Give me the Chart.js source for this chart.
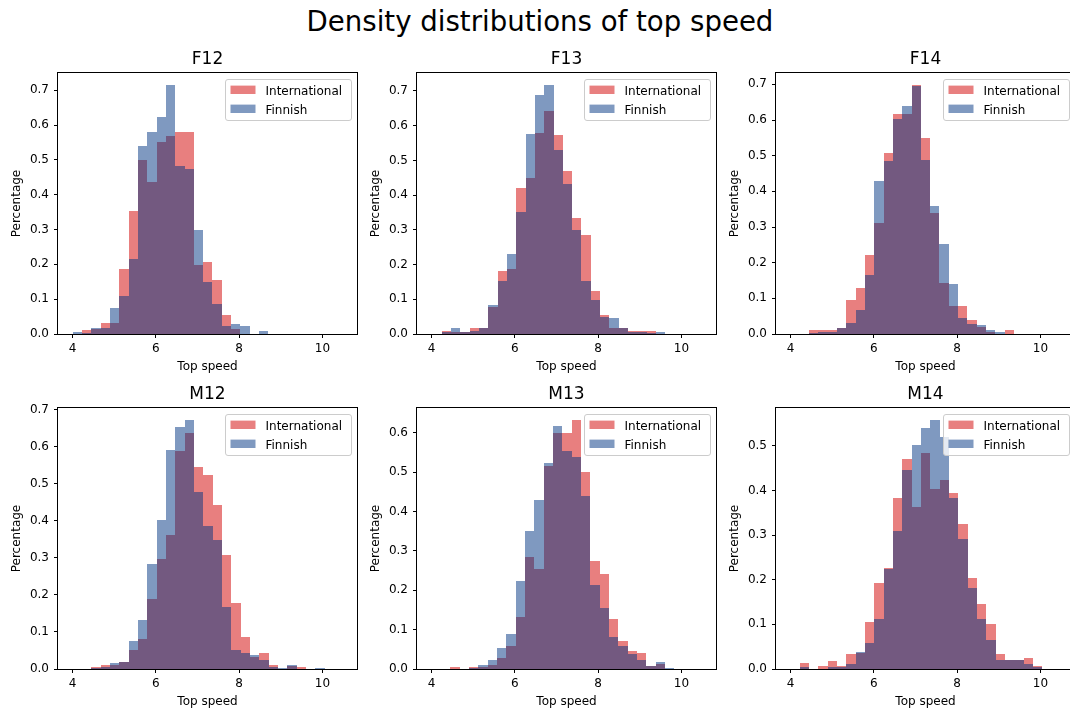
<!DOCTYPE html>
<html>
<head>
<meta charset="utf-8">
<title>Density distributions of top speed</title>
<script src="https://cdn.jsdelivr.net/npm/chart.js@4.4.0/dist/chart.umd.min.js"></script>
<style>
  html, body { margin: 0; padding: 0; background: #fff; overflow: hidden; }
  body { width: 1070px; height: 711px; position: relative; }
  #suptitle {
    position: absolute; left: 0; top: 8px; width: 1080px;
    text-align: center; font-family: "DejaVu Sans"; font-size: 27.6px; line-height: 28px; color: #000;
  }
  canvas { position: absolute; }
</style>
</head>
<body>
<div id="suptitle">Density distributions of top speed</div>
<script>
// histogram bins: each panel has its own first edge, same width
const panelNames = ['F12', 'F13', 'F14', 'M12', 'M13', 'M14'];
const binStarts = [4.0, 4.24, 4.44, 4.45, 4.45, 4.22];
const binWidth = 0.224;
const xTicks = [4, 6, 8, 10];
const seriesLabels = ['International', 'Finnish'];

// density per bin
const f12Intl = [0, 0.011, 0.014, 0.032, 0.032, 0.186, 0.353, 0.499, 0.437, 0.552, 0.569, 0.579, 0.579, 0.198, 0.207, 0.156, 0.054, 0.013, 0, 0, 0];
const f12Fin  = [0.006, 0.004, 0.016, 0.016, 0.075, 0.109, 0.215, 0.540, 0.579, 0.623, 0.714, 0.483, 0.473, 0.298, 0.148, 0.085, 0.024, 0.030, 0.023, 0, 0.009];

const f13Intl = [0.010, 0.005, 0.007, 0.018, 0.018, 0.078, 0.181, 0.186, 0.420, 0.449, 0.580, 0.642, 0.573, 0.470, 0.334, 0.286, 0.125, 0.056, 0.018, 0.018, 0.010, 0.010, 0.010, 0];
const f13Fin  = [0.005, 0.016, 0.007, 0.010, 0.018, 0.083, 0.153, 0.229, 0.351, 0.576, 0.687, 0.716, 0.531, 0.431, 0.300, 0.153, 0.098, 0.049, 0.047, 0.018, 0.007, 0.007, 0.003, 0.005];

const f14Intl = [0.010, 0.010, 0.010, 0.016, 0.095, 0.130, 0.221, 0.312, 0.507, 0.618, 0.618, 0.697, 0.550, 0.340, 0.142, 0.078, 0.078, 0.038, 0.020, 0.005, 0, 0.010];
const f14Fin  = [0.004, 0.005, 0.005, 0.018, 0.030, 0.067, 0.166, 0.430, 0.484, 0.602, 0.639, 0.695, 0.489, 0.360, 0.253, 0.139, 0.044, 0.027, 0.026, 0.011, 0.005, 0];

const m12Intl = [0.005, 0.011, 0.010, 0.020, 0.050, 0.081, 0.188, 0.297, 0.363, 0.588, 0.637, 0.544, 0.525, 0.444, 0.309, 0.178, 0.087, 0.033, 0.043, 0.011, 0, 0.008, 0.006, 0, 0];
const m12Fin  = [0.003, 0.006, 0.016, 0.020, 0.075, 0.133, 0.284, 0.403, 0.592, 0.653, 0.671, 0.477, 0.387, 0.349, 0.168, 0.050, 0.043, 0.038, 0.023, 0.005, 0.002, 0.011, 0, 0, 0.003];

const m13Intl = [0.006, 0, 0.006, 0.006, 0.010, 0.028, 0.059, 0.133, 0.285, 0.254, 0.515, 0.600, 0.600, 0.631, 0.499, 0.274, 0.240, 0.126, 0.072, 0.045, 0.041, 0.008, 0.012, 0];
const m13Fin  = [0, 0, 0.002, 0.011, 0.024, 0.054, 0.088, 0.223, 0.350, 0.429, 0.522, 0.617, 0.553, 0.538, 0.438, 0.214, 0.154, 0.080, 0.059, 0.037, 0.024, 0.008, 0.019, 0.003];

const m14Intl = [0.0135, 0, 0.007, 0.019, 0.007, 0.034, 0.036, 0.105, 0.192, 0.226, 0.384, 0.470, 0.364, 0.485, 0.404, 0.424, 0.395, 0.326, 0.205, 0.146, 0.100, 0.034, 0.020, 0.020, 0.025, 0.007];
const m14Fin  = [0.004, 0, 0, 0.005, 0.005, 0.011, 0.0375, 0.058, 0.113, 0.223, 0.309, 0.447, 0.503, 0.541, 0.557, 0.520, 0.383, 0.291, 0.181, 0.111, 0.065, 0.021, 0.020, 0.020, 0.011, 0.004];

const intlSeries = [f12Intl, f13Intl, f14Intl, m12Intl, m13Intl, m14Intl];
const finSeries = [f12Fin, f13Fin, f14Fin, m12Fin, m13Fin, m14Fin];

// look
const INTL_COLOR = 'rgba(210, 0, 0, 0.5)';
const FIN_COLOR = 'rgba(0, 52, 130, 0.5)';
const FONT = 'DejaVu Sans';

// panel geometry (plot area of each subplot)
const axLefts = [58, 417, 776];
const axTops = [73, 408];
const axW = 299, axH = 261;
const yAxisW = 58, titleH = 27, xAxisH = 40;
const xMin = 3.65, xMax = 10.83;

Chart.defaults.font.family = FONT;
Chart.defaults.font.size = 12;
Chart.defaults.color = '#000';

// snap bar edges to whole pixels so neighbouring translucent bars don't leave seams
const snapBars = {
    id: 'snapBars',
    afterDatasetsUpdate(chart) {
        chart.data.datasets.forEach((ds, i) => {
            chart.getDatasetMeta(i).data.forEach(bar => {
                const l = Math.round(bar.x - bar.width / 2);
                const r = Math.round(bar.x + bar.width / 2);
                bar.x = (l + r) / 2;
                bar.width = r - l;
                bar.y = Math.round(bar.y);
                bar.base = Math.round(bar.base);
            });
        });
    }
};

// box around the plot area, one pixel line on each side
const frame = {
    id: 'plotFrame',
    afterDraw(chart) {
        const ctx = chart.ctx;
        const a = chart.chartArea;
        const l = Math.round(a.left), t = Math.round(a.top);
        const r = Math.round(a.right), b = Math.round(a.bottom);
        ctx.save();
        ctx.globalAlpha = 1;
        ctx.globalCompositeOperation = 'source-over';
        ctx.fillStyle = '#000';
        ctx.fillRect(l - 1, t - 1, r - l + 2, 1);   // top
        ctx.fillRect(l - 1, b, r - l + 2, 1);       // bottom
        ctx.fillRect(l - 1, t - 1, 1, b - t + 2);   // left
        ctx.fillRect(r, t - 1, 1, b - t + 2);       // right
        ctx.restore();
    }
};

// legend in the upper right corner of the plot area
const boxLegend = {
    id: 'boxLegend',
    afterDraw(chart) {
        const { ctx, chartArea: a } = chart;
        const items = chart.data.datasets;
        ctx.save();
        ctx.font = '12px "' + FONT + '"';
        const textW = Math.max(...items.map(d => ctx.measureText(d.label).width));
        const handleW = 25, handleH = 8.4, rowGap = 19;
        const w = Math.round(5.5 + handleW + 10 + textW + 8.5);
        const h = Math.round(6.6 * 2 + handleH + rowGap * (items.length - 1));
        const right = Math.round(a.right) - 6;
        const top = Math.round(a.top) + 6;
        const left = right - w;

        ctx.beginPath();
        ctx.roundRect(left + 0.5, top + 0.5, w, h, 2.5);
        ctx.fillStyle = 'rgba(255, 255, 255, 0.8)';
        ctx.fill();
        ctx.strokeStyle = '#cccccc';
        ctx.lineWidth = 1;
        ctx.stroke();

        items.forEach((d, i) => {
            const hy = top + 6.6 + i * rowGap;
            ctx.fillStyle = d.backgroundColor;
            ctx.fillRect(left + 5.5, hy, handleW, handleH);
            ctx.fillStyle = '#000';
            ctx.textBaseline = 'alphabetic';
            ctx.textAlign = 'left';
            ctx.fillText(d.label, left + 5.5 + handleW + 10, hy + 9);
        });
        ctx.restore();
    }
};

function binCenters(start, n) {
    const xs = [];
    for (let i = 0; i < n; i++) xs.push(start + (i + 0.5) * binWidth);
    return xs;
}

panelNames.forEach((name, p) => {
    const col = p % 3, row = Math.floor(p / 3);
    const canvas = document.createElement('canvas');
    canvas.width = yAxisW + axW + 2;
    canvas.height = titleH + axH + xAxisH;
    canvas.style.left = (axLefts[col] - yAxisW) + 'px';
    canvas.style.top = (axTops[row] - titleH) + 'px';
    document.body.appendChild(canvas);

    const intl = intlSeries[p];
    const fin = finSeries[p];
    const xs = binCenters(binStarts[p], intl.length);
    const yMax = Math.max(...intl, ...fin) * 1.05;

    new Chart(canvas.getContext('2d'), {
        type: 'bar',
        data: {
            datasets: [
                {
                    label: seriesLabels[0],
                    data: intl.map((v, i) => ({ x: xs[i], y: v })),
                    backgroundColor: INTL_COLOR,
                    order: 2
                },
                {
                    label: seriesLabels[1],
                    data: fin.map((v, i) => ({ x: xs[i], y: v })),
                    backgroundColor: FIN_COLOR,
                    order: 1
                }
            ]
        },
        options: {
            responsive: false,
            animation: false,
            events: [],
            datasets: {
                bar: {
                    grouped: false,
                    barPercentage: 1,
                    categoryPercentage: 1,
                    borderWidth: 0,
                    inflateAmount: 0
                }
            },
            layout: { padding: { left: 0, top: 0, bottom: 0, right: 2 } },
            plugins: {
                legend: { display: false },
                tooltip: { enabled: false },
                title: {
                    display: true,
                    text: name,
                    fullSize: false,
                    font: { size: 17, weight: 'normal' },
                    color: '#000',
                    padding: { top: 3, bottom: 3.6 }
                }
            },
            scales: {
                x: {
                    type: 'linear',
                    min: xMin,
                    max: xMax,
                    offset: false,
                    afterBuildTicks: axis => { axis.ticks = xTicks.map(v => ({ value: v })); },
                    afterFit: axis => { axis.height = xAxisH; },
                    ticks: { padding: 4, maxRotation: 0, callback: v => String(v) },
                    grid: { display: true, offset: false, drawOnChartArea: false, drawTicks: true, tickLength: 4, color: '#000', lineWidth: 1 },
                    border: { display: false },
                    title: { display: true, text: 'Top speed', padding: { top: 0, bottom: 0 } }
                },
                y: {
                    min: 0,
                    max: yMax,
                    afterFit: axis => { axis.width = yAxisW; },
                    ticks: { stepSize: 0.1, includeBounds: false, padding: 5, callback: v => v.toFixed(1) },
                    grid: { display: true, drawOnChartArea: false, drawTicks: true, tickLength: 4, color: '#000', lineWidth: 1 },
                    border: { display: false },
                    title: { display: true, text: 'Percentage', padding: { top: 10, bottom: 0 } }
                }
            }
        },
        plugins: [snapBars, frame, boxLegend]
    });
});
</script>
</body>
</html>
